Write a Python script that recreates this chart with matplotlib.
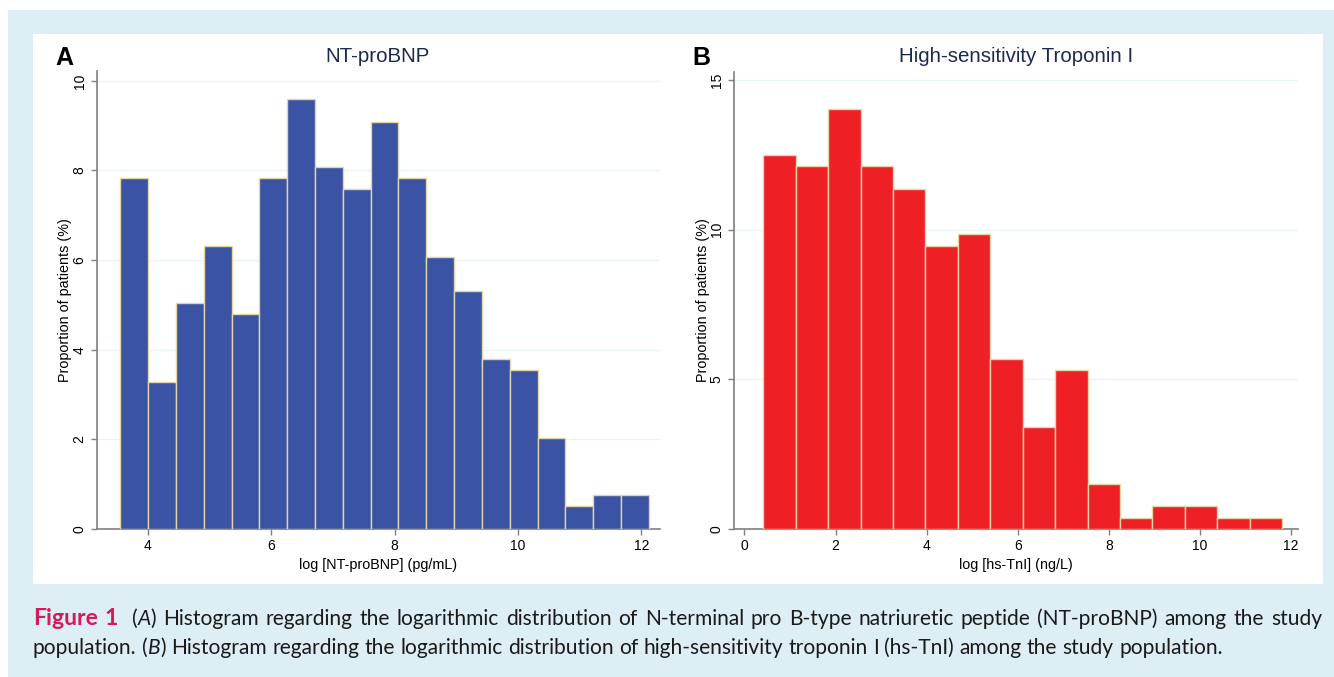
import numpy as np
import matplotlib.pyplot as plt
from matplotlib.patches import Rectangle

# ---- data (percent of patients per bin) ----
bnp_bin_start = 3.554
bnp_bin_width = 0.451
bnp_pct = [7.83, 3.28, 5.05, 6.31, 4.80, 7.83, 9.60, 8.08, 7.58, 9.09,
           7.83, 6.06, 5.30, 3.79, 3.54, 2.02, 0.51, 0.76, 0.76]

tni_bin_start = 0.411
tni_bin_width = 0.712
tni_pct = [12.50, 12.12, 14.02, 12.12, 11.36, 9.47, 9.85, 5.68, 3.41, 5.30,
           1.52, 0.38, 0.76, 0.76, 0.38, 0.38]

bnp_xticks = [4, 6, 8, 10, 12]
bnp_yticks = [0, 2, 4, 6, 8, 10]
tni_xticks = [0, 2, 4, 6, 8, 10, 12]
tni_yticks = [0, 5, 10, 15]

W, H = 1334, 677
fig = plt.figure(figsize=(W / 100, H / 100), dpi=100)
fig.patch.set_facecolor('white')

# background: light blue frame + white panel
bg = fig.add_axes([0, 0, 1, 1])
bg.set_xlim(0, W)
bg.set_ylim(H, 0)
bg.axis('off')
bg.add_patch(Rectangle((8, 10), W - 8, H - 10, facecolor='#ddeff4', edgecolor='none'))
bg.add_patch(Rectangle((33, 34), 1290, 550, facecolor='white', edgecolor='none'))


def px_axes(x0, y0, x1, y1):
    return fig.add_axes([x0 / W, 1 - y1 / H, (x1 - x0) / W, (y1 - y0) / H])


def hist_panel(ax, start, width, pct, color, xticks, yticks, xlim, ylim):
    edges = start + width * np.arange(len(pct) + 1)
    ax.bar(edges[:-1], pct, width=width, align='edge', color=color,
           edgecolor='#e3d6a4', linewidth=1.0, zorder=3)
    ax.set_xlim(*xlim)
    ax.set_ylim(*ylim)
    ax.set_xticks(xticks)
    ax.set_yticks(yticks)
    ax.yaxis.grid(True, color='#eaf3f5', linewidth=1.0, zorder=0)
    ax.set_axisbelow(True)
    for s in ['top', 'right']:
        ax.spines[s].set_visible(False)
    for s in ['left', 'bottom']:
        ax.spines[s].set_color('#808080')
        ax.spines[s].set_linewidth(1.2)
    ax.tick_params(direction='out', length=4.3, width=1.0, color='#808080',
                   labelsize=10, pad=3)
    for lab in ax.get_yticklabels():
        lab.set_rotation(90)
        lab.set_va('center')


plt.rcParams['font.family'] = ['Liberation Sans', 'DejaVu Sans']
lab_size = 10.4

# panel A
ax1 = px_axes(96.7, 71, 660, 529)
hist_panel(ax1, bnp_bin_start, bnp_bin_width, bnp_pct, '#3a53a4',
           bnp_xticks, bnp_yticks, (3.173, 12.303), (0, 10.22))
ax1.set_xlabel('log [NT-proBNP] (pg/mL)', fontsize=lab_size, va='center')
ax1.xaxis.set_label_coords(0.5, (529 - 564.5) / 458)
ax1.set_ylabel('Proportion of patients (%)', fontsize=lab_size, va='center')
ax1.yaxis.set_label_coords((64.5 - 96.7) / 563.3, 0.5)

# panel B
ax2 = px_axes(734, 71.7, 1297.6, 529)
hist_panel(ax2, tni_bin_start, tni_bin_width, tni_pct, '#ee1f25',
           tni_xticks, tni_yticks, (-0.23, 12.14), (0, 15.28))
ax2.set_xlabel('log [hs-TnI] (ng/L)', fontsize=lab_size, va='center')
ax2.xaxis.set_label_coords(0.5, (529 - 564.5) / 457.3)
ax2.set_ylabel('Proportion of patients (%)', fontsize=lab_size, va='center')
ax2.yaxis.set_label_coords((702.5 - 734) / 563.6, 0.5)

# titles and panel letters
bg.text(378, 57, 'NT-proBNP', fontsize=14.8, color='#1c2b4d', ha='center', va='center')
bg.text(1016, 57, 'High-sensitivity Troponin I', fontsize=14.8, color='#1c2b4d',
        ha='center', va='center')
bg.text(55, 58, 'A', fontsize=18, fontweight='bold', ha='left', va='center')
bg.text(692, 58, 'B', fontsize=18, fontweight='bold', ha='left', va='center')

# caption
cap_font = ['Lato', 'DejaVu Sans']
cap_size = 15.1
txt_col = '#1a1a1a'


def caption_line(x, y, pieces, right=None):
    """chain words; gaps are normal spaces, or stretched so the line ends at right"""
    prev = None
    parts = []
    for s, kw in pieces:
        style = dict(fontsize=cap_size, family=cap_font, color=txt_col)
        style.update(kw)
        for i, w in enumerate(s.split(' ')):
            if w == '' and i > 0:
                continue
            lead = i > 0 or (s.startswith(' ') and prev is not None)
            if prev is None:
                prev = bg.text(x, y, w, ha='left', va='baseline', **style)
            else:
                prev = bg.annotate(w, xy=(1, 0), xycoords=prev, xytext=(0, 0),
                                   textcoords='offset pixels', ha='left',
                                   va='bottom', **style)
                parts.append((prev, lead))
    fig.canvas.draw()
    r = fig.canvas.get_renderer()
    gaps = [p for p, lead in parts if lead]
    if right is None:
        t1 = bg.text(0, 0, 'a a', fontsize=cap_size, family=cap_font)
        t2 = bg.text(0, 0, 'aa', fontsize=cap_size, family=cap_font)
        gap = t1.get_window_extent(r).width - t2.get_window_extent(r).width
        t1.remove()
        t2.remove()
    else:
        gap = (right - prev.get_window_extent(r).x1) / len(gaps)
    for p in gaps:
        p.xyann = (gap, 0)


caption_line(33, 625, [
    ('Figure 1', dict(fontweight='bold', color='#d31b5b', fontsize=cap_size + 1.5)),
    (' (', {}), ('A', dict(style='italic')),
    (') Histogram regarding the logarithmic distribution of N-terminal pro '
     'B-type natriuretic peptide (NT-proBNP) among the study', {}),
], right=1322)
caption_line(33, 654, [
    ('population. (', {}), ('B', dict(style='italic')),
    (') Histogram regarding the logarithmic distribution of high-sensitivity '
     'troponin I (hs-TnI) among the study population.', {}),
])

fig.savefig('out.png', dpi=100, facecolor=fig.get_facecolor())
